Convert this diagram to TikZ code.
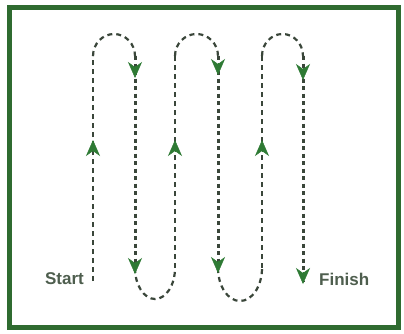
\documentclass[tikz,border=0pt]{standalone}
\usepackage{fontspec}
\setmainfont{Liberation Sans}
\usetikzlibrary{arrows.meta}
\definecolor{frame}{HTML}{2F6B30}
\definecolor{dash}{HTML}{3A463A}
\definecolor{tip}{HTML}{2E7A34}
\definecolor{label}{HTML}{4E5E4E}
\tikzset{
  upline/.style={draw=dash,line width=1.3pt,dash pattern=on 5pt off 4pt},
  downline/.style={draw=dash,line width=3pt,dash pattern=on 4pt off 3.5pt},
  arcline/.style={draw=dash,line width=2.2pt,dash pattern=on 5pt off 4pt},
  tipmark/.style={draw=tip,line width=0.5pt,-{Stealth[length=16pt,width=14pt,inset=5pt,fill=tip]}},
  lbl/.style={text=label,font=\bfseries\fontsize{17}{20}\selectfont,inner sep=0pt}
}
\begin{document}
\begin{tikzpicture}[x=1pt,y=-1pt]
\useasboundingbox (0,0) rectangle (404,333);
\fill[white] (0,0) rectangle (404,333);
\draw[frame,line width=5pt] (9,7) rectangle (398,327);
% path coordinates
\coordinate (s) at (93,281);
\coordinate (a1) at (93,56);
\coordinate (a2) at (135,56);
\coordinate (b1) at (135,268);
\coordinate (b2) at (175,268);
\coordinate (c1) at (175,56);
\coordinate (c2) at (218,56);
\coordinate (d1) at (218,268);
\coordinate (d2) at (262,268);
\coordinate (e1) at (262,56);
\coordinate (e2) at (303,56);
\coordinate (f) at (303,282);
% verticals
\draw[upline] (s) -- (a1);
\draw[downline] (a2) -- (b1);
\draw[upline] (b2) -- (c1);
\draw[downline] (c2) -- (d1);
\draw[upline] (d2) -- (e1);
\draw[downline] (e2) -- (f);
% arcs
\draw[arcline] (a1) arc[start angle=180,end angle=0,x radius=21,y radius=-22];
\draw[arcline] (b1) arc[start angle=180,end angle=360,x radius=20,y radius=-31];
\draw[arcline] (c1) arc[start angle=180,end angle=0,x radius=21.5,y radius=-22];
\draw[arcline] (d1) arc[start angle=180,end angle=360,x radius=22,y radius=-33];
\draw[arcline] (e1) arc[start angle=180,end angle=0,x radius=20.5,y radius=-22];
% arrow heads
\draw[tipmark] (93,152) -- (93,140);
\draw[tipmark] (175,152) -- (175,140);
\draw[tipmark] (262,152) -- (262,140);
\draw[tipmark] (135,66) -- (135,78);
\draw[tipmark] (218,63) -- (218,75);
\draw[tipmark] (303,68) -- (303,80);
\draw[tipmark] (135,262) -- (135,274);
\draw[tipmark] (218,261) -- (218,273);
\draw[tipmark] (303,272) -- (303,284);
% labels
\node[lbl,anchor=east] (start) at (84,279) {Start};
\node[lbl,anchor=west] (finish) at (319,279) {Finish};
\end{tikzpicture}
\end{document}
